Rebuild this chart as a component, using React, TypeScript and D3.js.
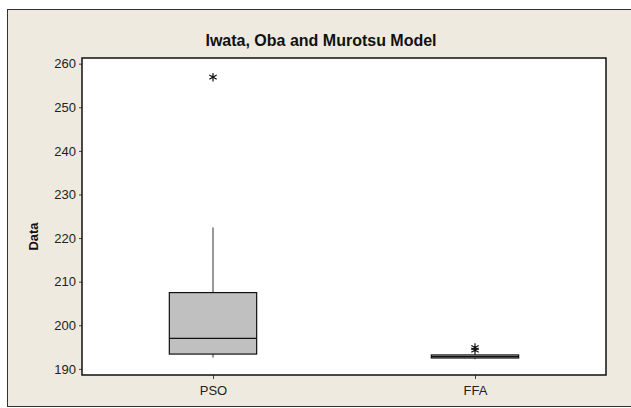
import { useEffect, useRef } from "react";
import * as d3 from "d3";

const categories = ["PSO", "FFA"];
const whiskerLow = [192.6, 192.2];
const q1 = [193.4, 192.5];
const median = [197.0, 192.8];
const q3 = [207.5, 193.2];
const whiskerHigh = [222.4, 193.3];
const outliers = [[256.9], [194.9, 194.3]];
const yTicks = [190, 200, 210, 220, 230, 240, 250, 260];

const W = 631;
const H = 408;

function App() {
  const ref = useRef<SVGSVGElement>(null);

  useEffect(() => {
    const svg = d3.select(ref.current);
    svg.selectAll("*").remove();

    const font = "'Liberation Sans', Arial, sans-serif";
    const margin = { top: 58, right: 25, bottom: 33, left: 82 };
    const pw = 606 - margin.left;
    const ph = 375 - margin.top;

    // frame
    svg.append("rect").attr("width", W).attr("height", H).attr("fill", "#fff");
    svg
      .append("rect")
      .attr("x", 7.5)
      .attr("y", 9.5)
      .attr("width", W + 10)
      .attr("height", 397)
      .attr("fill", "#eeeae0")
      .attr("stroke", "#333")
      .attr("stroke-width", 1);

    svg
      .append("text")
      .attr("x", 321)
      .attr("y", 46)
      .attr("text-anchor", "middle")
      .style("font-family", font)
      .style("font-weight", "bold")
      .style("font-size", "16px")
      .attr("fill", "#111")
      .text("Iwata, Oba and Murotsu Model");

    const g = svg
      .append("g")
      .attr("transform", `translate(${margin.left}, ${margin.top})`);

    const x = d3.scalePoint().domain(categories).range([0, pw]).padding(0.5);
    const y = d3.scaleLinear().domain([188.6, 261.3]).range([ph, 0]);

    g.append("rect")
      .attr("width", pw)
      .attr("height", ph)
      .attr("fill", "#fff");

    // y axis
    const yAxis = g
      .append("g")
      .call(d3.axisLeft(y).tickValues(yTicks).tickSize(3).tickPadding(3))
      .call((a) => a.select(".domain").remove());
    yAxis
      .selectAll("text")
      .style("font-family", font)
      .style("font-size", "13px")
      .attr("fill", "#222");
    yAxis.selectAll("line").attr("stroke", "#444");

    // x axis
    const xAxis = g
      .append("g")
      .attr("transform", `translate(0, ${ph})`)
      .call(d3.axisBottom(x).tickSize(4).tickPadding(7))
      .call((a) => a.select(".domain").remove());
    xAxis
      .selectAll("text")
      .style("font-family", font)
      .style("font-size", "13px")
      .attr("fill", "#222");
    xAxis.selectAll("line").attr("stroke", "#444");

    svg
      .append("text")
      .attr("transform", `translate(38, ${margin.top + ph / 2 + 20}) rotate(-90)`)
      .attr("text-anchor", "middle")
      .style("font-family", font)
      .style("font-weight", "bold")
      .style("font-size", "13px")
      .attr("fill", "#111")
      .text("Data");

    const bw = x.step() / 3;
    const boxes = categories.map((c, i) => ({
      c,
      lo: whiskerLow[i],
      q1: q1[i],
      med: median[i],
      q3: q3[i],
      hi: whiskerHigh[i],
      out: outliers[i],
    }));

    const bg = g.selectAll("g.box").data(boxes).join("g").attr("class", "box");

    // whiskers
    bg.append("line")
      .attr("x1", (d) => x(d.c)!)
      .attr("x2", (d) => x(d.c)!)
      .attr("y1", (d) => y(d.q3))
      .attr("y2", (d) => y(d.hi))
      .attr("stroke", "#555")
      .attr("stroke-width", 1.2);
    bg.append("line")
      .attr("x1", (d) => x(d.c)!)
      .attr("x2", (d) => x(d.c)!)
      .attr("y1", (d) => y(d.q1))
      .attr("y2", (d) => y(d.lo))
      .attr("stroke", "#555")
      .attr("stroke-width", 1.2);

    bg.append("rect")
      .attr("x", (d) => x(d.c)! - bw / 2)
      .attr("y", (d) => y(d.q3))
      .attr("width", bw)
      .attr("height", (d) => y(d.q1) - y(d.q3))
      .attr("fill", "#c0c0c0")
      .attr("stroke", "#111")
      .attr("stroke-width", 1.2);

    bg.append("line")
      .attr("x1", (d) => x(d.c)! - bw / 2)
      .attr("x2", (d) => x(d.c)! + bw / 2)
      .attr("y1", (d) => y(d.med))
      .attr("y2", (d) => y(d.med))
      .attr("stroke", "#111")
      .attr("stroke-width", 1.2);

    const star = d3.symbol(d3.symbolAsterisk, 50);
    bg.selectAll("path.out")
      .data((d) => d.out.map((v) => ({ c: d.c, v })))
      .join("path")
      .attr("class", "out")
      .attr("transform", (d) => `translate(${x(d.c)}, ${y(d.v)})`)
      .attr("d", star)
      .attr("fill", "none")
      .attr("stroke", "#111")
      .attr("stroke-width", 1.2);

    // plot border
    g.append("rect")
      .attr("width", pw)
      .attr("height", ph)
      .attr("fill", "none")
      .attr("stroke", "#111")
      .attr("stroke-width", 1.5);
  }, []);

  return (
    <svg
      ref={ref}
      width={W}
      height={H}
      style={{ position: "absolute", left: 0, top: 0 }}
    />
  );
}

export default App;
